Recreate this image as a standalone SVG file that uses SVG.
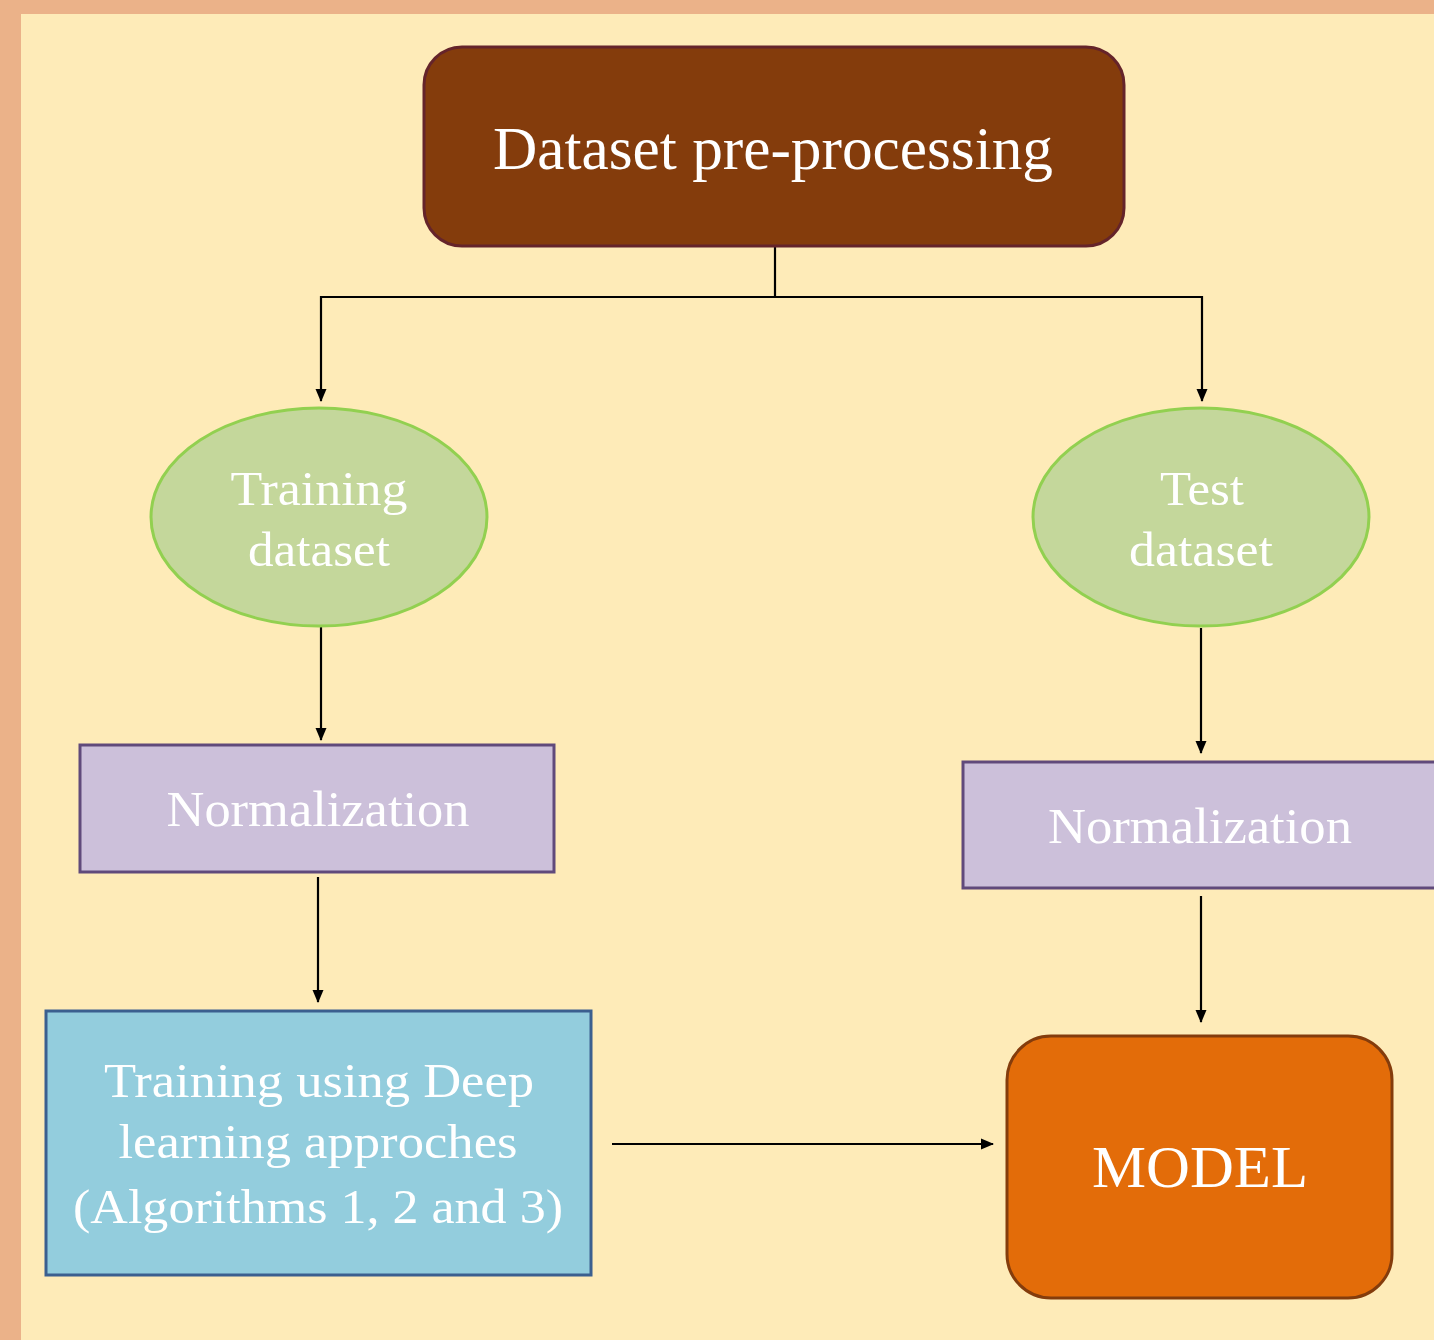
<svg xmlns="http://www.w3.org/2000/svg" width="1434" height="1340" viewBox="0 0 1434 1340">
<style>
text{font-family:"Liberation Serif","Times New Roman",serif;fill:#ffffff;text-anchor:middle}
.conn{stroke:#000;stroke-width:2.2;fill:none}
</style>
<defs>
<marker id="ah" markerWidth="14" markerHeight="14" refX="12" refY="7" orient="auto" markerUnits="userSpaceOnUse" viewBox="0 0 14 14">
<path d="M0,1.5 L13,7 L0,12.5 Z" fill="#000"/>
</marker>
</defs>
<rect x="0" y="0" width="1434" height="1340" fill="#EBB289"/>
<rect x="21" y="14" width="1413" height="1326" fill="#FEEBB8"/>
<g id="connectors">
<path class="conn" d="M775,247 V297 H321 V401" marker-end="url(#ah)"/>
<path class="conn" d="M775,297 H1202 V401" marker-end="url(#ah)"/>
<path class="conn" d="M321,627 V740" marker-end="url(#ah)"/>
<path class="conn" d="M1201,628 V753" marker-end="url(#ah)"/>
<path class="conn" d="M318,877 V1002" marker-end="url(#ah)"/>
<path class="conn" d="M1201,896 V1022" marker-end="url(#ah)"/>
<path class="conn" d="M612,1144 H993" marker-end="url(#ah)"/>
</g>
<g id="preprocessing">
<rect x="424" y="47" width="700" height="199" rx="38" fill="#843C0C" stroke="#65242A" stroke-width="3"/>
<text x="773" y="169" font-size="61.5" textLength="560" lengthAdjust="spacingAndGlyphs">Dataset pre-processing</text>
</g>
<g id="training-dataset">
<ellipse cx="319" cy="517" rx="168" ry="109" fill="#C4D79B" stroke="#92D050" stroke-width="3"/>
<text x="319" y="505" font-size="48" textLength="177" lengthAdjust="spacingAndGlyphs">Training</text>
<text x="319" y="566" font-size="48" textLength="142" lengthAdjust="spacingAndGlyphs">dataset</text>
</g>
<g id="test-dataset">
<ellipse cx="1201" cy="517" rx="168" ry="109" fill="#C4D79B" stroke="#92D050" stroke-width="3"/>
<text x="1202" y="505" font-size="48" textLength="84" lengthAdjust="spacingAndGlyphs">Test</text>
<text x="1201" y="566" font-size="48" textLength="144" lengthAdjust="spacingAndGlyphs">dataset</text>
</g>
<g id="normalization-left">
<rect x="80" y="745" width="474" height="127" fill="#CCC0DA" stroke="#604A7B" stroke-width="3"/>
<text x="318" y="826" font-size="50" textLength="303" lengthAdjust="spacingAndGlyphs">Normalization</text>
</g>
<g id="normalization-right">
<rect x="963" y="762" width="475" height="126" fill="#CCC0DA" stroke="#604A7B" stroke-width="3"/>
<text x="1200" y="843" font-size="50" textLength="304" lengthAdjust="spacingAndGlyphs">Normalization</text>
</g>
<g id="training-dl">
<rect x="46" y="1011" width="545" height="264" fill="#93CDDD" stroke="#3B5F8F" stroke-width="3"/>
<text x="319" y="1097" font-size="48" textLength="430" lengthAdjust="spacingAndGlyphs">Training using Deep</text>
<text x="318" y="1158" font-size="48" textLength="399" lengthAdjust="spacingAndGlyphs">learning approches</text>
<text x="318" y="1223" font-size="48" textLength="490" lengthAdjust="spacingAndGlyphs">(Algorithms 1, 2 and 3)</text>
</g>
<g id="model">
<rect x="1007" y="1036" width="385" height="262" rx="44" fill="#E36C09" stroke="#843C0C" stroke-width="3"/>
<text x="1200" y="1187" font-size="60" textLength="216" lengthAdjust="spacingAndGlyphs">MODEL</text>
</g>
</svg>
